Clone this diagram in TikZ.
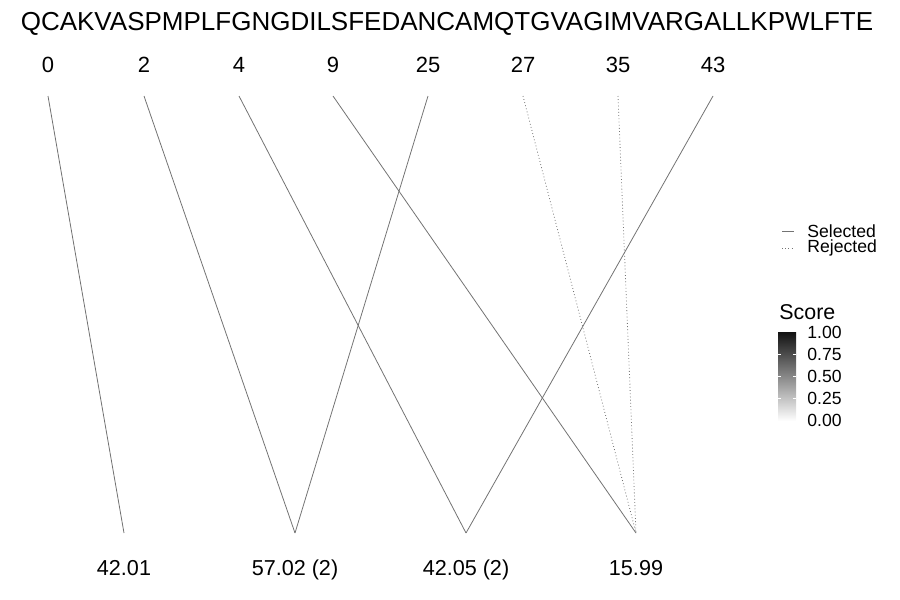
\documentclass[tikz,border=0pt]{standalone}
\usepackage{fontspec}
\setmainfont{Liberation Sans}
\begin{document}
\begin{tikzpicture}[x=0.5pt,y=-0.5pt,
  conn/.style={draw=black!55,line width=0.4pt},
  rej/.style={conn,dash pattern=on 0.4pt off 1.2pt},
  toplab/.style={font=\fontsize{11}{12}\selectfont,inner sep=0pt,anchor=base},
  botlab/.style={font=\fontsize{10.8}{12}\selectfont,inner sep=0pt,anchor=base},
  leglab/.style={font=\fontsize{8.8}{9}\selectfont,inner sep=0pt,anchor=west}]
\useasboundingbox (0,0) rectangle (900,600);
\node[inner sep=0pt,anchor=base,font=\fontsize{13}{15}\selectfont] (seq) at (447,30) {QCAKVASPMPLFGNGDILSFEDANCAMQTGVAGIMVARGALLKPWLFTE};
% top labels
\foreach \n/\x in {0/48,2/144,4/239,9/333,25/428,27/523,35/618,43/713}{
  \node[toplab] (l\n) at (\x,72) {\n};
  \coordinate (t\n) at (\x,96);
}
% bottom points
\foreach \n/\x in {a/124,b/295,c/466,d/636}{
  \coordinate (b\n) at (\x,533);
}
\node[botlab] (la) at (124,575) {42.01};
\node[botlab] (lb) at (295,575) {57.02 (2)};
\node[botlab] (lc) at (466,575) {42.05 (2)};
\node[botlab] (ld) at (636,575) {15.99};
% connectors
\draw[conn] (t0) -- (ba);
\draw[conn] (t2) -- (bb);
\draw[conn] (t25) -- (bb);
\draw[conn] (t4) -- (bc);
\draw[conn] (t43) -- (bc);
\draw[conn] (t9) -- (bd);
\draw[rej] (t27) -- (bd);
\draw[rej] (t35) -- (bd);
% legend
\coordinate (s1) at (782,231); \coordinate (s2) at (794,231);
\draw[conn] (s1) -- (s2);
\node[leglab] (sel) at (807,231) {Selected};
\coordinate (r1) at (782,248); \coordinate (r2) at (794,248);
\draw[rej] (r1) -- (r2);
\node[leglab] (rejl) at (807,248) {Rejected};
\node[inner sep=0pt,anchor=west,font=\fontsize{10.7}{11}\selectfont] (score) at (779,312) {Score};
\shade[top color=black!93,bottom color=white] (778,332) rectangle (796,421);
\foreach \v/\y in {0.25/398,0.50/376,0.75/354}{
  \draw[white,line width=0.3pt] (778,\y) -- (781,\y);
  \draw[white,line width=0.3pt] (793,\y) -- (796,\y);
}
\foreach \v/\y in {1.00/332,0.75/354,0.50/376,0.25/398,0.00/420}{
  \node[leglab] at (807,\y) {\v};
}
\end{tikzpicture}
\end{document}
